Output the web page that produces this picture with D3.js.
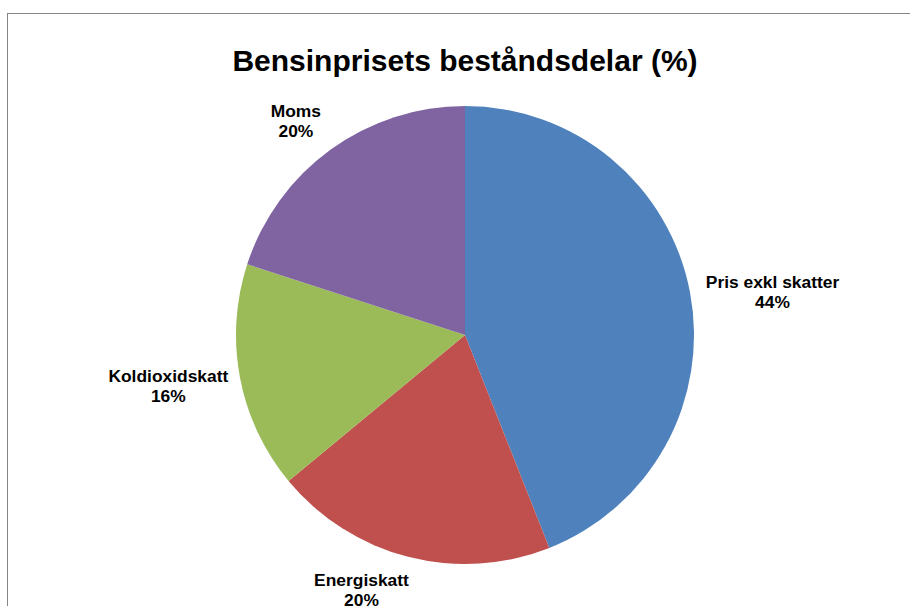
<!DOCTYPE html>
<html>
<head>
<meta charset="utf-8">
<script src="https://cdn.jsdelivr.net/npm/d3@7"></script>
<style>
    body { margin: 0; background: #fff; }
    text { font-family: "Liberation Sans", Arial, sans-serif; font-weight: bold; }
</style>
</head>
<body>
<div id="wrapper"></div>
<script>
// Chart data
const categories = ["Pris exkl skatter", "Energiskatt", "Koldioxidskatt", "Moms"]
const shares = [44, 20, 16, 20]
const colors = ["#4F81BD", "#C0504D", "#9BBB59", "#8064A2"]
const title = "Bensinprisets beståndsdelar (%)"

function drawPieChart() {
    const dimensions = {
        width: 910,
        height: 606,
        cx: 465,
        cy: 335,
        radius: 229,
    }

    const wrapper = d3.select("#wrapper")
        .append("svg")
        .attr("width", dimensions.width)
        .attr("height", dimensions.height)

    // Chart area border (runs off the right and bottom edges)
    wrapper.append("rect")
        .attr("x", 7.5)
        .attr("y", 13.5)
        .attr("width", 1000)
        .attr("height", 1000)
        .attr("fill", "none")
        .attr("stroke", "#868686")
        .attr("stroke-width", 1)

    wrapper.append("text")
        .attr("x", dimensions.cx)
        .attr("y", 71)
        .attr("text-anchor", "middle")
        .attr("font-size", 30)
        .text(title)

    const data = categories.map((c, i) => ({ name: c, value: shares[i], color: colors[i] }))

    const pie = d3.pie()
        .value(d => d.value)
        .sort(null)

    const arc = d3.arc()
        .innerRadius(0)
        .outerRadius(dimensions.radius)

    const bounds = wrapper.append("g")
        .attr("transform", `translate(${dimensions.cx},${dimensions.cy})`)

    const arcs = pie(data)

    bounds.selectAll("path")
        .data(arcs)
        .join("path")
        .attr("d", arc)
        .attr("fill", d => d.data.color)

    // Labels sit just outside the pie, pushed out by their own half-size.
    // Excel's "best fit" moves a couple of them a little, hence the nudges.
    const fontSize = 17.4
    const lineHeight = 20
    const gap = 16
    const nudge = {
        "Pris exkl skatter": [0, 10],
        "Energiskatt": [-19, -2],
        "Koldioxidskatt": [4, -2],
        "Moms": [0, 4],
    }
    const clamp = v => Math.max(-1, Math.min(1, v))

    const labels = bounds.selectAll("g.label")
        .data(arcs)
        .join("g")
        .attr("class", "label")

    labels.each(function(d) {
        const t = d3.select(this).append("text")
            .attr("text-anchor", "middle")
            .attr("font-size", fontSize)
        t.append("tspan").attr("x", 0).attr("dy", 0).text(d.data.name)
        t.append("tspan").attr("x", 0).attr("dy", lineHeight).text(d.data.value + "%")
        const box = t.node().getBBox()
        const mid = (d.startAngle + d.endAngle) / 2
        const r = dimensions.radius + gap
        const [nx, ny] = nudge[d.data.name] || [0, 0]
        const x = r * Math.sin(mid) + box.width / 2 * clamp(2 * Math.sin(mid)) + nx
        const y = -r * Math.cos(mid) - box.height / 2 * clamp(2 * Math.cos(mid)) + ny
        t.attr("transform", `translate(${x},${y - box.y - box.height / 2})`)
    })
}

drawPieChart()
</script>
</body>
</html>
